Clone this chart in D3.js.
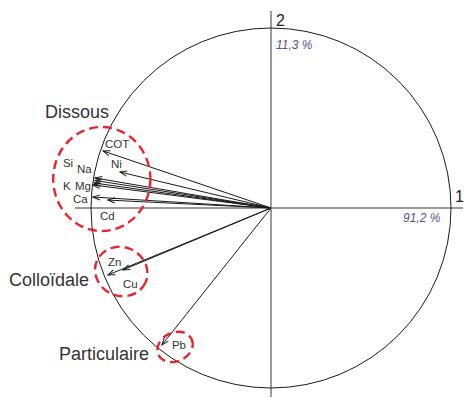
<!DOCTYPE html>
<html>
<head>
<meta charset="utf-8">
<script src="https://cdn.jsdelivr.net/npm/d3@7/dist/d3.min.js"></script>
<style>
  html, body { margin: 0; padding: 0; background: #fff; }
  svg { display: block; font-family: "Liberation Sans", Arial, Helvetica, sans-serif; }
</style>
</head>
<body>
<div id="chart"></div>
<script>
// Correlation circle: variables projected on axes 1 and 2
const variables = ["COT", "Ni", "Si", "Na", "K", "Mg", "Ca", "Cd", "Zn", "Cu", "Pb"];
const axis1 = [-0.933, -0.839, -0.978, -0.978, -0.983, -0.989, -0.989, -0.906, -0.906, -0.822, -0.606];
const axis2 = [0.317, 0.200, 0.167, 0.153, 0.139, 0.128, 0.061, 0.044, -0.372, -0.344, -0.761];

// Explained variance of each axis
const axisNames = ["1", "2"];
const axisVariance = ["91,2 %", "11,3 %"];

// Fraction groups circled on the plot
const groupNames = ["Dissous", "Colloïdale", "Particulaire"];

const W = 467, H = 398;
const cx = 271, cy = 208, R = 180;

const x = d3.scaleLinear().domain([-1, 1]).range([cx - R, cx + R]);
const y = d3.scaleLinear().domain([-1, 1]).range([cy + R, cy - R]);

// Label placement relative to each arrow tip (px)
const labelOffset = {
  COT: [2, -3], Ni: [-9, -4], Si: [-32, -11], Na: [-18, -7], K: [-31, 7],
  Mg: [-18, 5], Ca: [-20, 6], Cd: [-8, 20], Zn: [0, -9], Cu: [0, 18], Pb: [10, 4]
};

// Dashed outlines around each group (circle units) and group title anchors (px)
const groupShapes = [
  { cx: -0.94, cy: 0.161, rx: 0.27, ry: 0.289, rot: 0, label: [45, 118] },
  { cx: -0.832, cy: -0.353, rx: 0.148, ry: 0.135, rot: 25, label: [9, 286] },
  { cx: -0.533, cy: -0.772, rx: 0.102, ry: 0.08, rot: -25, label: [59, 360] }
];

const svg = d3.select("#chart").append("svg")
  .attr("width", W).attr("height", H);

svg.append("defs").append("marker")
  .attr("id", "tip")
  .attr("viewBox", "-8 -4 10 8")
  .attr("refX", 0).attr("refY", 0)
  .attr("markerWidth", 10).attr("markerHeight", 8)
  .attr("markerUnits", "userSpaceOnUse")
  .attr("orient", "auto")
  .append("path")
  .attr("d", "M-7,-2.6 L0,0 L-7,2.6")
  .attr("fill", "none")
  .attr("stroke", "#1a1a1a")
  .attr("stroke-width", 1);

// Axes through the origin
svg.append("line")
  .attr("x1", x(-1.09)).attr("x2", x(1.067))
  .attr("y1", y(0)).attr("y2", y(0))
  .attr("stroke", "#7a7a7a").attr("stroke-width", 1.5);
svg.append("line")
  .attr("x1", x(0)).attr("x2", x(0))
  .attr("y1", y(1.095)).attr("y2", y(-1.05))
  .attr("stroke", "#7a7a7a").attr("stroke-width", 1.5);

// Unit circle
svg.append("circle")
  .attr("cx", x(0)).attr("cy", y(0))
  .attr("r", x(1) - x(0))
  .attr("fill", "none").attr("stroke", "#1a1a1a").attr("stroke-width", 1);

// Axis names and variance
svg.append("text").attr("x", x(1) + 4).attr("y", y(0) - 6)
  .attr("font-size", 16).attr("fill", "#222").text(axisNames[0]);
svg.append("text").attr("x", x(0) + 5).attr("y", y(1) - 2)
  .attr("font-size", 16).attr("fill", "#222").text(axisNames[1]);
svg.append("text").attr("x", x(1) - 48).attr("y", y(0) + 14)
  .attr("font-size", 12).attr("font-style", "italic").attr("fill", "#5f4b8b")
  .text(axisVariance[0]);
svg.append("text").attr("x", x(0) + 5).attr("y", y(1) + 21)
  .attr("font-size", 12).attr("font-style", "italic").attr("fill", "#5f4b8b")
  .text(axisVariance[1]);

// Variable arrows
const rows = variables.map((v, i) => ({ name: v, a: axis1[i], b: axis2[i] }));

svg.append("g").selectAll("line").data(rows).join("line")
  .attr("x1", x(0)).attr("y1", y(0))
  .attr("x2", d => x(d.a)).attr("y2", d => y(d.b))
  .attr("stroke", "#1a1a1a").attr("stroke-width", 1)
  .attr("marker-end", "url(#tip)");

svg.append("g").selectAll("text").data(rows).join("text")
  .attr("x", d => x(d.a) + labelOffset[d.name][0])
  .attr("y", d => y(d.b) + labelOffset[d.name][1])
  .attr("font-size", 11.5).attr("fill", "#333")
  .text(d => d.name);

// Group outlines and titles
groupShapes.forEach((g, i) => {
  const px = x(g.cx), py = y(g.cy);
  svg.append("ellipse")
    .attr("cx", px).attr("cy", py)
    .attr("rx", g.rx * R).attr("ry", g.ry * R)
    .attr("transform", `rotate(${g.rot},${px},${py})`)
    .attr("fill", "none").attr("stroke", "#e8262d")
    .attr("stroke-width", 2.4).attr("stroke-dasharray", "9,5");
  svg.append("text")
    .attr("x", g.label[0]).attr("y", g.label[1])
    .attr("font-size", 18).attr("fill", "#333")
    .text(groupNames[i]);
});
</script>
</body>
</html>
